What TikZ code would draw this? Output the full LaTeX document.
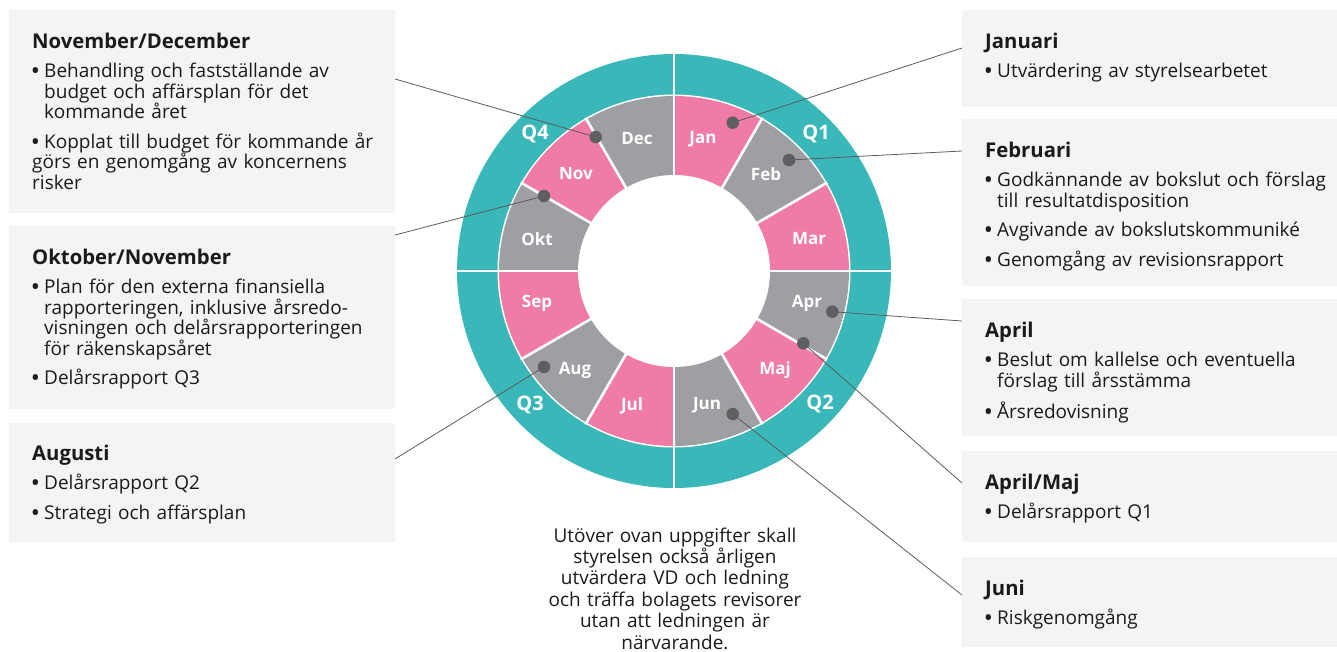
\documentclass[tikz,border=0pt]{standalone}
\usepackage{fontspec}
\setmainfont{Open Sans}
\usetikzlibrary{calc}
\definecolor{tealA}{HTML}{3AB8B9}
\definecolor{pinkA}{HTML}{EF7BA6}
\definecolor{grayA}{HTML}{9E9FA3}
\definecolor{boxbg}{HTML}{F3F4F4}
\definecolor{dotc}{HTML}{5E5F61}
\definecolor{linec}{HTML}{5A5B5D}
\definecolor{txt}{HTML}{1A1A1A}
\newcommand{\btitle}[1]{{\fontsize{20.3}{20.5}\selectfont\bfseries #1}}
\newcommand{\bpt}[1]{\par\vspace{9pt}\hangindent=12pt\hangafter=1\noindent\makebox[12pt][l]{\kern-0.3pt\textbf{•}}#1}
\tikzset{
  infobox/.style={fill=boxbg, draw=none, inner sep=0, anchor=north west},
  boxtext/.style={anchor=base west, inner sep=0, text width=345pt, align=left, text=txt,
    font=\fontsize{19}{20.5}\selectfont},
  month/.style={text=white, font=\fontsize{17}{17}\selectfont\bfseries, inner sep=0},
  qlab/.style={text=white, font=\fontsize{20}{20}\selectfont\bfseries, inner sep=0},
  dotmark/.style={circle, fill=dotc, inner sep=0, minimum size=12.5pt},
  conn/.style={draw=linec, line width=0.8pt},
  note/.style={anchor=base, inner sep=0, text width=320pt, align=center, text=txt,
    font=\fontsize{19}{21.4}\selectfont}
}
\begin{document}
\begin{tikzpicture}[x=1pt,y=-1pt]
\useasboundingbox (0,0) rectangle (1337,651);
% ---------- boxes ----------
\node[infobox, minimum width=386pt, minimum height=203pt] (bND) at (9,10) {};
\node[infobox, minimum width=386pt, minimum height=183pt] (bOK) at (9,226) {};
\node[infobox, minimum width=386pt, minimum height=119pt] (bAU) at (9,423) {};
\node[infobox, minimum width=375pt, minimum height=97pt] (bJA) at (962,10) {};
\node[infobox, minimum width=375pt, minimum height=167pt] (bFE) at (962,119) {};
\node[infobox, minimum width=375pt, minimum height=137pt] (bAP) at (962,299) {};
\node[infobox, minimum width=375pt, minimum height=91pt] (bAM) at (962,451) {};
\node[infobox, minimum width=375pt, minimum height=90pt] (bJU) at (962,557) {};
% ---------- box texts ----------
\node[boxtext] (tND) at (32,48) {\btitle{November/December}%
  \bpt{Behandling och fastställande av\newline budget och affärsplan för det\newline kommande året}%
  \bpt{Kopplat till budget för kommande år\newline görs en genomgång av koncernens\newline risker}};
\node[boxtext] (tOK) at (32,264) {\btitle{Oktober/November}%
  \bpt{Plan för den externa finansiella\newline rapporteringen, inklusive årsredo-\newline visningen och delårsrapporteringen\newline för räkenskapsåret}%
  \bpt{Delårsrapport Q3}};
\node[boxtext] (tAU) at (32,460) {\btitle{Augusti}%
  \bpt{Delårsrapport Q2}%
  \bpt{Strategi och affärsplan}};
\node[boxtext] (tJA) at (985,48) {\btitle{Januari}%
  \bpt{Utvärdering av styrelsearbetet}};
\node[boxtext] (tFE) at (985,157) {\btitle{Februari}%
  \bpt{Godkännande av bokslut och förslag\newline till resultatdisposition}%
  \bpt{Avgivande av bokslutskommuniké}%
  \bpt{Genomgång av revisionsrapport}};
\node[boxtext] (tAP) at (985,337) {\btitle{April}%
  \bpt{Beslut om kallelse och eventuella\newline förslag till årsstämma}%
  \bpt{Årsredovisning}};
\node[boxtext] (tAM) at (985,489) {\btitle{April/Maj}%
  \bpt{Delårsrapport Q1}};
\node[boxtext] (tJU) at (985,595) {\btitle{Juni}%
  \bpt{Riskgenomgång}};
% ---------- wheel ----------
\begin{scope}[shift={(674,271)}]
  \fill[tealA] (0,0) circle[radius=217];
  \fill[white] (0,0) circle[radius=176.5];
  \foreach \i/\c in {0/pinkA,1/grayA,2/pinkA,3/grayA,4/pinkA,5/grayA,6/pinkA,7/grayA,8/pinkA,9/grayA,10/pinkA,11/grayA}
    \fill[\c] (0,0) -- ({-90+30*\i}:175) arc[start angle={-90+30*\i}, delta angle=30, radius=175] -- cycle;
  \foreach \a in {0,30,...,330}
    \draw[white, line width=2.6pt] (0,0) -- (\a:177);
  \foreach \a in {0,90,180,270}
    \draw[white, line width=2.6pt] (0,0) -- (\a:218);
  \fill[white] (0,0) circle[radius=96];
\end{scope}
% month labels
\node[month] (mJan) at (703,139) {Jan};
\node[month] (mFeb) at (766,174) {Feb};
\node[month] (mMar) at (809,239) {Mar};
\node[month] (mApr) at (807,303) {Apr};
\node[month] (mMaj) at (775,370) {Maj};
\node[month] (mJun) at (707,405) {Jun};
\node[month] (mJul) at (632,406) {Jul};
\node[month] (mAug) at (575,370) {Aug};
\node[month] (mSep) at (537,303) {Sep};
\node[month] (mOkt) at (537,239) {Okt};
\node[month] (mNov) at (576,174) {Nov};
\node[month] (mDec) at (637,139) {Dec};
% quarter labels
\node[qlab] (q1) at (816,134) {Q1};
\node[qlab] (q2) at (820,404) {Q2};
\node[qlab] (q3) at (530,405) {Q3};
\node[qlab] (q4) at (535,134) {Q4};
% ---------- connectors ----------
\coordinate (pND) at (595.7,137);
\coordinate (pOK) at (544,196);
\coordinate (pAU) at (544,367);
\coordinate (pJA) at (732.7,122.7);
\coordinate (pFE) at (789,160);
\coordinate (pAP) at (832.3,311.7);
\coordinate (pAM) at (803.3,343.3);
\coordinate (pJU) at (732.7,414);
\coordinate (eND) at (395,79);
\coordinate (eOK) at (395,235);
\coordinate (eAU) at (395,459);
\coordinate (eJA) at (962,48);
\coordinate (eFE) at (962,151);
\coordinate (eAP) at (962,321);
\coordinate (eAM) at (962,483);
\coordinate (eJU) at (962,595);
\foreach \k in {ND,OK,AU,JA,FE,AP,AM,JU}
  \draw[conn] (p\k) -- (e\k);
\foreach \k in {ND,OK,AU,JA,FE,AP,AM,JU}
  \node[dotmark] (d\k) at (p\k) {};
% ---------- note ----------
\node[note] (note) at (675,542) {Utöver ovan uppgifter skall\\ styrelsen också årligen\\ utvärdera VD och ledning\\ och träffa bolagets revisorer\\ utan att ledningen är\\ närvarande.};
\end{tikzpicture}
\end{document}
